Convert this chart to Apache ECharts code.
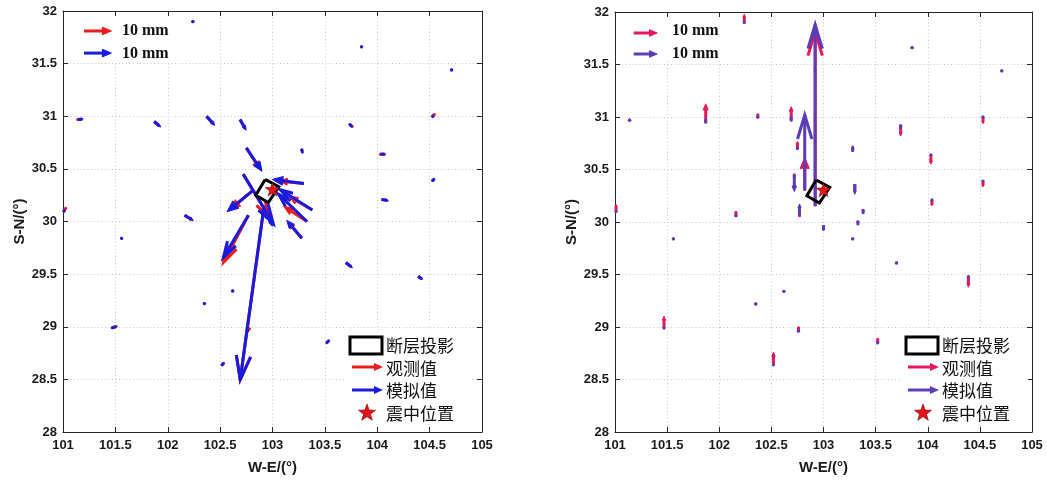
<!DOCTYPE html>
<html>
<head>
<meta charset="utf-8">
<script src="https://cdn.jsdelivr.net/npm/echarts@6/dist/echarts.min.js"></script>
<style>
  html, body { margin: 0; padding: 0; background: #fff; }
  #chart { width: 1047px; height: 481px; }
</style>
</head>
<body>
<div id="chart"></div>
<script>
// GPS stations (longitude / latitude, degrees)
const stationLon = [101.14, 101.87, 102.37, 102.69, 102.24, 103.85, 104.71, 103.74, 104.53, 103.28,
                    104.03, 104.53, 104.04, 101.01, 102.16, 101.56, 103.70, 104.39, 102.62, 102.35,
                    101.47, 103.52, 102.52, 102.76, 102.75, 102.72, 102.82, 102.92, 102.77, 103.30,
                    103.38, 103.33, 103.28, 103.00];
const stationLat = [30.97, 30.95, 31.00, 30.97, 31.90, 31.66, 31.44, 30.92, 31.00, 30.68,
                    30.64, 30.39, 30.21, 30.10, 30.06, 29.84, 29.61, 29.48, 29.34, 29.22,
                    28.99, 28.85, 28.64, 28.96, 30.70, 30.45, 30.30, 30.15, 30.06, 30.36,
                    30.11, 30.00, 29.84, 29.97];
// horizontal coseismic displacement, mm (east, north)
const obsE = [1.2, 2.2, 2.6, 2.0, 0.4, 0.3, 0.2, 0.8, 0.6, 0.0,
              1.4, 0.3, 2.2, 0.6, 3.2, 0.3, 2.0, 1.2, 0.3, 0.3,
              2.0, 0.3, 0.5, 0.8, 5.2, 9.5, -8.5, -8.7, -9.0, -9.0,
              -8.5, -8.5, -5.0, -0.8];
const obsN = [0.0, -1.8, -3.0, -3.6, 0.3, 0.1, 0.2, -0.6, 0.6, -0.5,
              0.0, 0.3, -0.3, 1.0, -2.0, 0.3, -1.6, -1.0, 0.3, 0.2,
              0.6, 0.3, 0.5, 0.8, -8.0, -15.5, -7.0, -63.0, -17.0, 1.0,
              5.0, 5.5, 6.0, 0.8];
const simE = [2.0, 2.4, 3.0, 2.2, 0.3, 0.3, 0.2, 0.5, 0.3, 0.2,
              1.8, 0.4, 2.6, 0.2, 3.1, 0.4, 2.4, 1.6, 0.3, 0.2,
              1.0, 0.6, 0.4, 0.3, 5.7, 10.9, -9.7, -8.7, -9.1, -11.5,
              -11.6, -10.3, -5.5, -1.0];
const simN = [0.2, -2.0, -3.3, -3.9, 0.3, 0.0, 0.1, -0.5, 0.3, -0.8,
              0.0, 0.4, -0.5, 0.2, -1.8, 0.3, -1.9, -1.2, 0.2, 0.2,
              0.3, 0.6, 0.4, 0.3, -8.5, -17.8, -7.9, -63.0, -15.3, 1.5,
              7.3, 9.8, 6.5, 1.0];
// vertical coseismic displacement, mm (up positive)
const obsU = [0.4, 7.8, 1.0, 5.7, 3.5, 0.4, 0.6, -4.5, -2.8, 1.0,
              -4.0, -2.5, -2.5, 3.0, 1.5, 0.5, 0.5, -4.5, 0.3, 0.3,
              5.0, 1.5, 5.3, 2.0, 3.0, -1.0, 14.0, 74.0, 1.0, -3.0,
              -0.5, -0.5, 0.5, -2.0];
const simU = [0.3, 1.0, 0.5, 1.0, 0.5, 0.3, 0.3, -1.0, -0.5, 1.5,
              -0.5, -0.5, -0.5, 0.5, 0.5, 0.5, 0.3, -0.5, 0.3, 0.2,
              0.5, 0.3, 0.3, 0.3, 0.5, -7.1, 32.0, 77.0, 5.0, -4.3,
              -1.0, -0.8, 0.3, -2.5];

// fault surface projection (corner lon / lat) and epicenter
const faultLon = [102.93, 103.06, 102.96, 102.84, 102.93];
const faultLat = [30.40, 30.33, 30.18, 30.25, 30.40];
const epicenter = [103.00, 30.30];

// reference arrow length, mm
const refLength = 10;

// quiver scale: degrees per mm for each panel
const horizScale = 0.02624;
const vertScale = 0.02247;

const COLORS = {
  obsH: '#ee1b1b', simH: '#1b1be0',
  obsV: '#e6195a', simV: '#5d3db6'
};

function starPoints(cx, cy, R, r) {
  const pts = [];
  for (let k = 0; k < 10; k++) {
    const a = -Math.PI / 2 + k * Math.PI / 5;
    const rr = k % 2 === 0 ? R : r;
    pts.push([cx + rr * Math.cos(a), cy + rr * Math.sin(a)]);
  }
  return pts;
}

// arrow from p0 to p1 in pixels
function arrowShape(p0, p1, color, lw) {
  const dx = p1[0] - p0[0], dy = p1[1] - p0[1];
  const L = Math.hypot(dx, dy);
  if (L < 1.5) {
    return { type: 'circle', shape: { cx: p0[0], cy: p0[1], r: lw * 0.55 }, style: { fill: color } };
  }
  const ux = dx / L, uy = dy / L;
  if (L < 4) {
    return { type: 'line', shape: { x1: p0[0], y1: p0[1], x2: p1[0], y2: p1[1] },
             style: { stroke: color, lineWidth: lw, lineCap: 'round' } };
  }
  const h = Math.min(0.33 * L, 24);
  const filled = h <= 12;
  const w = filled ? h * 0.42 : h * 0.3;
  const bx = p1[0] - ux * h, by = p1[1] - uy * h;
  const left = [bx - uy * w, by + ux * w];
  const right = [bx + uy * w, by - ux * w];
  const shaftEnd = filled ? [bx + ux * 1, by + uy * 1] : p1;
  const children = [
    { type: 'line', shape: { x1: p0[0], y1: p0[1], x2: shaftEnd[0], y2: shaftEnd[1] },
      style: { stroke: color, lineWidth: lw, lineCap: 'butt' } }
  ];
  if (filled) {
    children.push({ type: 'polygon', shape: { points: [left, p1, right] },
                    style: { fill: color, stroke: color, lineWidth: 1, lineJoin: 'round' } });
  } else {
    children.push({ type: 'polyline', shape: { points: [left, p1, right] },
                    style: { stroke: color, lineWidth: lw, fill: null, lineJoin: 'miter', lineCap: 'butt' } });
  }
  return { type: 'group', children };
}

function arrowSeries(name, axis, data, scale, color, z) {
  return {
    type: 'custom', name, xAxisIndex: axis, yAxisIndex: axis, z, silent: true,
    data,
    renderItem(params, api) {
      const lon = api.value(0), lat = api.value(1);
      const p0 = api.coord([lon, lat]);
      const p1 = api.coord([lon + api.value(2) * scale, lat + api.value(3) * scale]);
      return arrowShape(p0, p1, color, 3);
    }
  };
}

function starSeries(axis) {
  return {
    type: 'custom', xAxisIndex: axis, yAxisIndex: axis, z: 6, silent: true,
    data: [epicenter],
    renderItem(params, api) {
      const p = api.coord([api.value(0), api.value(1)]);
      return { type: 'polygon', shape: { points: starPoints(p[0], p[1], 7.5, 3.1) },
               style: { fill: '#e8141c', stroke: '#5a1010', lineWidth: 0.6 } };
    }
  };
}

function faultSeries(axis) {
  return {
    type: 'line', xAxisIndex: axis, yAxisIndex: axis, z: 5, silent: true,
    symbol: 'none', animation: false,
    lineStyle: { color: '#000', width: 3, join: 'miter' },
    data: faultLon.map((lon, i) => [lon, faultLat[i]])
  };
}

const hObs = stationLon.map((lon, i) => [lon, stationLat[i], obsE[i], obsN[i]]);
const hSim = stationLon.map((lon, i) => [lon, stationLat[i], simE[i], simN[i]]);
const vObs = stationLon.map((lon, i) => [lon, stationLat[i], 0, obsU[i]]);
const vSim = stationLon.map((lon, i) => [lon, stationLat[i], 0, simU[i]]);

const tickFont = { color: '#1a1a1a', fontWeight: 'bold', fontFamily: 'Liberation Sans, Arial', fontSize: 13 };
const nameFont = { color: '#1a1a1a', fontWeight: 'bold', fontFamily: 'Liberation Sans, Arial', fontSize: 15 };

function xAxisDef(g, pos, main) {
  return {
    gridIndex: g, type: 'value', position: pos, min: 101, max: 105, interval: 0.5,
    axisLine: { show: true, onZero: false, lineStyle: { color: '#262626', width: 1 } },
    axisTick: { show: true, inside: true, length: 5, lineStyle: { color: '#262626' } },
    axisLabel: Object.assign({ show: main, margin: 7, showMinLabel: true, showMaxLabel: true }, tickFont),
    splitLine: { show: main, lineStyle: { color: '#c6c6c6', type: [1, 2.5], width: 1 } },
    name: main ? 'W-E/(°)' : '', nameLocation: 'middle', nameGap: 28, nameTextStyle: nameFont
  };
}
function yAxisDef(g, pos, main) {
  return {
    gridIndex: g, type: 'value', position: pos, min: 28, max: 32, interval: 0.5,
    axisLine: { show: true, onZero: false, lineStyle: { color: '#262626', width: 1 } },
    axisTick: { show: true, inside: true, length: 5, lineStyle: { color: '#262626' } },
    axisLabel: Object.assign({ show: main, margin: 6, showMinLabel: true, showMaxLabel: true }, tickFont),
    splitLine: { show: main, lineStyle: { color: '#c6c6c6', type: [1, 2.5], width: 1 } },
    name: main ? 'S-N/(°)' : '', nameLocation: 'middle', nameGap: 29, nameRotate: 90, nameTextStyle: nameFont
  };
}

// legend graphics
const cjkFont = '17px "Noto Sans CJK SC"';
const refFont = 'bold 16px "Liberation Serif", "Times New Roman"';

function legendArrow(x0, x1, y, color) {
  const h = 9, w = 4;
  return [
    { type: 'line', z: 10, shape: { x1: x0, y1: y, x2: x1 - h + 1, y2: y }, style: { stroke: color, lineWidth: 3 } },
    { type: 'polygon', z: 10, shape: { points: [[x1 - h, y - w], [x1, y], [x1 - h, y + w]] }, style: { fill: color } }
  ];
}
function legendText(x, y, text, font) {
  return { type: 'text', z: 10, style: { text, x, y, font, fill: '#111', verticalAlign: 'middle', textVerticalAlign: 'middle' } };
}
function keyLegend(x, obsColor, simColor) {
  return [
    { type: 'rect', z: 1, shape: { x: x - 5, y: 330, width: 127, height: 94 }, style: { fill: '#fff' } },
    { type: 'rect', z: 10, shape: { x: x, y: 337, width: 32, height: 17 }, style: { fill: null, stroke: '#000', lineWidth: 3 } },
    legendText(x + 36, 346, '断层投影', cjkFont),
    ...legendArrow(x + 2, x + 33, 367, obsColor),
    legendText(x + 36, 369, '观测值', cjkFont),
    ...legendArrow(x + 2, x + 33, 390, simColor),
    legendText(x + 36, 391, '模拟值', cjkFont),
    { type: 'polygon', z: 10, shape: { points: starPoints(x + 17, 413, 9, 3.7) }, style: { fill: '#e8141c', stroke: '#5a1010', lineWidth: 0.6 } },
    legendText(x + 36, 414, '震中位置', cjkFont)
  ];
}
function refLegend(x, textX) {
  return [
    { type: 'rect', z: 1, shape: { x: x, y: 17, width: 110, height: 44 }, style: { fill: '#fff' } },
    legendText(textX, 31, refLength + ' mm', refFont),
    legendText(textX, 54, refLength + ' mm', refFont)
  ];
}

// reference arrows drawn through each panel's scale
const refLeftObs = [[101.20, 31.81, refLength, 0]];
const refLeftSim = [[101.20, 31.60, refLength, 0]];
const refRightObs = [[101.18, 31.80, refLength, 0]];
const refRightSim = [[101.18, 31.60, refLength, 0]];

const option = {
  animation: false,
  backgroundColor: '#ffffff',
  grid: [
    { left: 63, top: 11, width: 419, height: 421 },
    { left: 615, top: 12, width: 417, height: 420 }
  ],
  xAxis: [xAxisDef(0, 'bottom', true), xAxisDef(0, 'top', false), xAxisDef(1, 'bottom', true), xAxisDef(1, 'top', false)],
  yAxis: [yAxisDef(0, 'left', true), yAxisDef(0, 'right', false), yAxisDef(1, 'left', true), yAxisDef(1, 'right', false)],
  series: [
    arrowSeries('观测值', 0, hObs, horizScale, COLORS.obsH, 3),
    arrowSeries('模拟值', 0, hSim, horizScale, COLORS.simH, 4),
    faultSeries(0),
    starSeries(0),
    arrowSeries('ref-obs', 0, refLeftObs, horizScale, COLORS.obsH, 10),
    arrowSeries('ref-sim', 0, refLeftSim, horizScale, COLORS.simH, 10),

    arrowSeries('观测值', 2, vObs, vertScale, COLORS.obsV, 3),
    arrowSeries('模拟值', 2, vSim, vertScale, COLORS.simV, 4),
    faultSeries(2),
    starSeries(2),
    arrowSeries('ref-obs', 2, refRightObs, vertScale, COLORS.obsV, 10),
    arrowSeries('ref-sim', 2, refRightSim, vertScale, COLORS.simV, 10)
  ],
  graphic: [].concat(
    refLegend(69, 122),
    refLegend(620, 672),
    keyLegend(350, COLORS.obsH, COLORS.simH),
    keyLegend(906, COLORS.obsV, COLORS.simV)
  )
};

const chart = echarts.init(document.getElementById('chart'), null, { renderer: 'canvas' });
chart.setOption(option);
</script>
</body>
</html>
